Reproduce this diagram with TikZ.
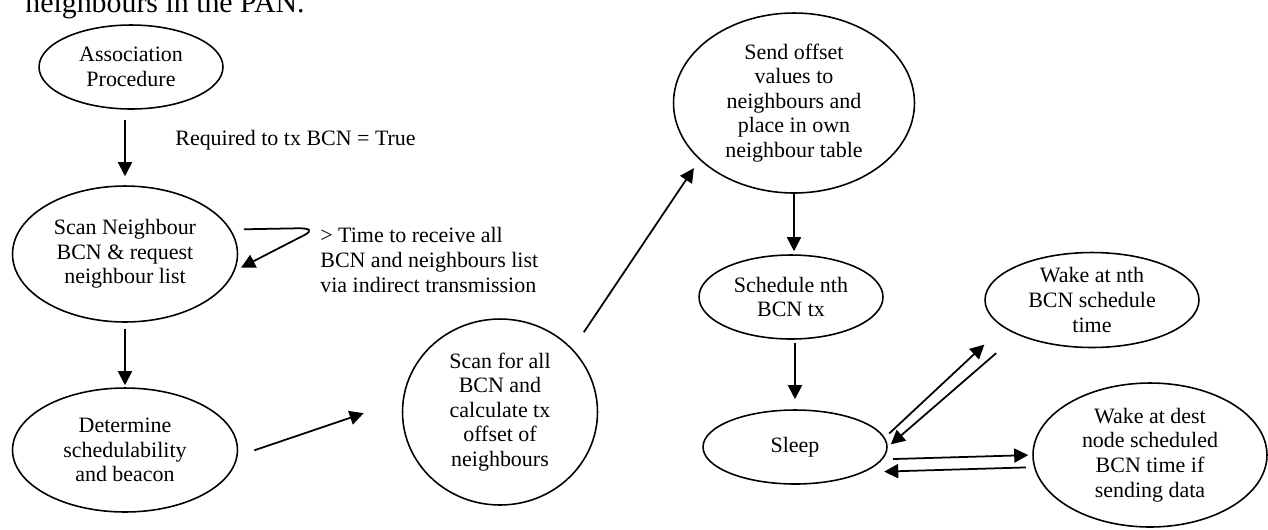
\documentclass[tikz,border=0pt]{standalone}
\usepackage{fontspec}
\setmainfont{Liberation Serif}
\usetikzlibrary{shapes.geometric, arrows.meta}
\tikzstyle{stage} = [ellipse, draw, line width=0.9pt, inner xsep=0pt, inner ysep=-3pt, align=center, font=\fontsize{12.5}{14}\selectfont]
\tikzstyle{note} = [inner sep=0pt, align=left, font=\fontsize{12.5}{14}\selectfont]
\tikzstyle{arrow} = [line width=1pt, -{Triangle[length=8pt,width=8pt]}]

\begin{document}
\begin{tikzpicture}[x=0.02cm, y=-0.02cm]
\clip (0,0) rectangle (1268,529);

\node[anchor=base west, inner sep=0pt, font=\fontsize{17}{20}\selectfont] (cap) at (25,12) {neighbours in the PAN.};

\node[stage, minimum width=3.68cm, minimum height=1.68cm] (assoc) at (131,67) {Association\\Procedure};
\node[stage, minimum width=4.5cm, minimum height=2.72cm] (scan) at (125,254) {Scan Neighbour\\BCN \& request\\neighbour list};
\node[stage, minimum width=4.5cm, minimum height=2.48cm] (det) at (125,450) {Determine\\schedulability\\and beacon};
\node[stage, minimum width=3.9cm, minimum height=3.72cm] (sfa) at (500,412) {Scan for all\\BCN and\\calculate tx\\offset of\\neighbours};
\node[stage, minimum width=4.82cm, minimum height=3.6cm] (send) at (794,103) {Send offset\\values to\\neighbours and\\place in own\\neighbour table};
\node[stage, minimum width=3.68cm, minimum height=1.68cm] (sched) at (791,297) {Schedule nth\\BCN tx};
\node[stage, minimum width=3.68cm, minimum height=1.48cm] (sleep) at (795,447) {Sleep};
\node[stage, minimum width=4.28cm, minimum height=1.9cm] (wnth) at (1092,300) {Wake at nth\\BCN schedule\\time};
\node[stage, minimum width=4.68cm, minimum height=2.88cm] (wdest) at (1150,455) {Wake at dest\\node scheduled\\BCN time if\\sending data};

\node[note, anchor=west] (req) at (175,140) {Required to tx BCN = True};
\node[note, anchor=west] (waitlbl) at (320,260) {> Time to receive all\\BCN and neighbours list\\via indirect transmission};

\draw[arrow, shorten <=0.2cm, shorten >=0.18cm] (scan.north |- assoc.south) -- (scan.north);
\draw[arrow] ([shift={(12,-2)}]scan.12) -- ++(55,-1) .. controls +(10,0) and +(10,-5) .. ++(5,7) -- ([shift={(5,0)}]scan.-7);
\draw[arrow, shorten <=0.12cm, shorten >=0.04cm] (scan.south) -- (det.north);
\draw[arrow, shorten <=0.35cm, shorten >=0.82cm] (det.-3) -- (sfa.173);
\draw[arrow, shorten <=0.4cm, shorten >=0.2cm] (sfa.41) -- (send.211);
\draw[arrow, shorten >=0.06cm] (send.south) -- (send.south |- sched.north);
\draw[arrow, shorten <=0.06cm, shorten >=0.2cm] (sleep.north |- sched.south) -- (sleep.north);
\draw[arrow, shorten <=0.12cm, shorten >=0.51cm] (sleep.6) -- (wnth.197);
\draw[arrow, shorten <=0.56cm, shorten >=0.08cm] (wnth.205) -- (sleep.0);
\draw[arrow, shorten <=0.21cm, shorten >=0.08cm] (sleep.-8) -- (wdest.180);
\draw[arrow, shorten <=0.16cm, shorten >=0.4cm] (wdest.186) -- (sleep.340);

\end{tikzpicture}
\end{document}
